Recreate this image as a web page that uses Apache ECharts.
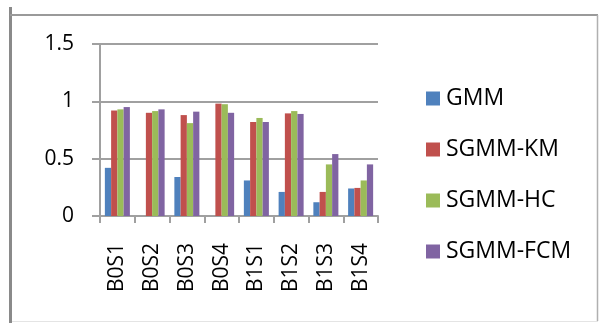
<!DOCTYPE html>
<html>
<head>
<meta charset="utf-8">
<script src="https://cdn.jsdelivr.net/npm/echarts@6/dist/echarts.min.js"></script>
<style>
  html, body { margin: 0; padding: 0; background: #fff; }
  #chart { width: 600px; height: 323px; }
</style>
</head>
<body>
<div id="chart"></div>
<script>
// Categories (scenario codes) and the score of each method
const categories = ['B0S1', 'B0S2', 'B0S3', 'B0S4', 'B1S1', 'B1S2', 'B1S3', 'B1S4'];
const gmm      = [0.42, 0, 0.34, 0, 0.31, 0.21, 0.12, 0.24];
const sgmmKM   = [0.92, 0.90, 0.88, 0.98, 0.82, 0.895, 0.21, 0.245];
const sgmmHC   = [0.93, 0.915, 0.81, 0.975, 0.855, 0.915, 0.45, 0.31];
const sgmmFCM  = [0.95, 0.93, 0.91, 0.90, 0.82, 0.89, 0.54, 0.45];
const seriesNames = ['GMM', 'SGMM-KM', 'SGMM-HC', 'SGMM-FCM'];
const seriesColors = ['#4F81BD', '#C0504D', '#9BBB59', '#8064A2'];
const yTicks = { min: 0, max: 1.5, interval: 0.5 };

const FONT = '"Open Sans", "DejaVu Sans", sans-serif';
const AXIS_GRAY = '#a0a0a0';

const chart = echarts.init(document.getElementById('chart'), null, { renderer: 'canvas' });

const seriesData = [gmm, sgmmKM, sgmmHC, sgmmFCM];

chart.setOption({
  animation: false,
  backgroundColor: '#ffffff',
  textStyle: { fontFamily: FONT, color: '#000' },
  grid: { left: 100, top: 44, width: 278, height: 172, containLabel: false },
  legend: {
    orient: 'vertical',
    left: 421,
    top: 82,
    itemWidth: 14,
    itemHeight: 14,
    itemGap: 28,
    icon: 'rect',
    data: seriesNames,
    textStyle: { fontFamily: FONT, fontSize: 23, color: '#000', lineHeight: 20, padding: [0, 0, 0, 1] }
  },
  xAxis: {
    type: 'category',
    data: categories,
    boundaryGap: true,
    axisLine: { show: true, lineStyle: { color: AXIS_GRAY, width: 2 } },
    axisTick: { show: true, length: 7, alignWithLabel: false, lineStyle: { color: AXIS_GRAY, width: 2 } },
    axisLabel: { rotate: 90, margin: 27, fontFamily: FONT, fontSize: 21, color: '#000' },
    splitLine: { show: false }
  },
  yAxis: {
    type: 'value',
    min: yTicks.min,
    max: yTicks.max,
    interval: yTicks.interval,
    axisLine: { show: true, lineStyle: { color: AXIS_GRAY, width: 2 } },
    axisTick: { show: true, length: 8, lineStyle: { color: AXIS_GRAY, width: 2 } },
    axisLabel: { margin: 26, fontFamily: FONT, fontSize: 21, color: '#000' },
    splitLine: { show: true, lineStyle: { color: AXIS_GRAY, width: 2 } }
  },
  series: seriesNames.map((name, i) => ({
    name: name,
    type: 'bar',
    data: seriesData[i],
    barGap: '0%',
    barCategoryGap: '28%',
    itemStyle: { color: seriesColors[i] }
  })),
  graphic: [
    // outer frame around the chart
    { type: 'line', shape: { x1: 10.5, y1: 7, x2: 10.5, y2: 323 }, style: { stroke: '#8a8a8a', lineWidth: 3 } },
    { type: 'line', shape: { x1: 10, y1: 15, x2: 598, y2: 15 }, style: { stroke: '#9a9a9a', lineWidth: 2 } },
    { type: 'line', shape: { x1: 597.5, y1: 15, x2: 597.5, y2: 321 }, style: { stroke: '#b0b0b0', lineWidth: 1.5 } },
    { type: 'line', shape: { x1: 12, y1: 321.5, x2: 598, y2: 321.5 }, style: { stroke: '#e4e4e4', lineWidth: 1 } }
  ]
});
</script>
</body>
</html>
